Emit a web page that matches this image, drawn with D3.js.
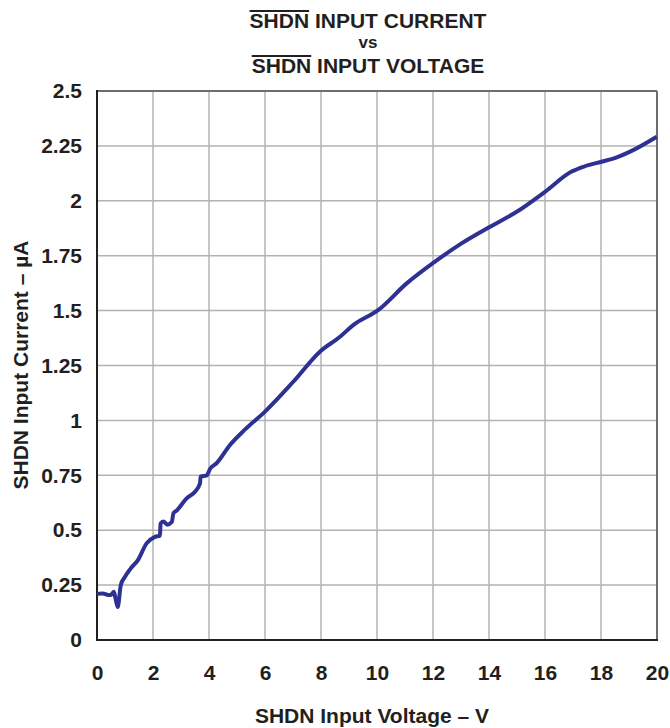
<!DOCTYPE html>
<html><head><meta charset="utf-8">
<script src="https://cdn.jsdelivr.net/npm/d3@7/dist/d3.min.js"></script>
<style>body{margin:0;background:#fff}svg{display:block}text{font-family:"Liberation Sans",Arial,sans-serif;font-weight:bold;fill:#231f20}</style>
</head><body><svg id="c" width="670" height="728"></svg>
<script>
const voltage = [0,0.2,0.4,0.5,0.6,0.66,0.74,0.85,1.0,1.2,1.46,1.77,2.07,2.25,2.27,2.37,2.51,2.67,2.73,2.85,3.2,3.5,3.68,3.7,3.92,4.04,4.27,4.75,5.3,6.0,7.01,7.96,8.68,9.15,10.05,11.06,12.07,13.02,14.04,14.99,16.0,16.95,17.37,18.02,18.56,19.04,19.99];
const current = [0.21,0.212,0.205,0.205,0.22,0.19,0.15,0.25,0.288,0.325,0.364,0.44,0.47,0.475,0.53,0.54,0.525,0.537,0.577,0.59,0.645,0.675,0.714,0.744,0.75,0.78,0.805,0.888,0.96,1.04,1.176,1.313,1.381,1.434,1.503,1.624,1.723,1.806,1.882,1.95,2.041,2.133,2.155,2.178,2.198,2.224,2.292];
const xTicks = [0,2,4,6,8,10,12,14,16,18,20];
const yTicks = [0,0.25,0.5,0.75,1,1.25,1.5,1.75,2,2.25,2.5];
const yTickLabels = ["0","0.25","0.5","0.75","1","1.25","1.5","1.75","2","2.25","2.5"];

const svg = d3.select("#c");
const L=97,R=657,T=91,B=640;
const x = d3.scaleLinear().domain([0,20]).range([L,R]);
const y = d3.scaleLinear().domain([0,2.5]).range([B,T]);

// grid
svg.append("g").selectAll("line").data(xTicks.slice(1,-1)).join("line")
  .attr("x1",d=>x(d)).attr("x2",d=>x(d)).attr("y1",T).attr("y2",B)
  .attr("stroke","#b3b3b3").attr("stroke-width",1.5);
svg.append("g").selectAll("line").data(yTicks.slice(1,-1)).join("line")
  .attr("y1",d=>y(d)).attr("y2",d=>y(d)).attr("x1",L).attr("x2",R)
  .attr("stroke","#b3b3b3").attr("stroke-width",1.5);

// frame
svg.append("line").attr("x1",L).attr("x2",R).attr("y1",T).attr("y2",T).attr("stroke","#6d6d6d").attr("stroke-width",2);
svg.append("line").attr("x1",R).attr("x2",R).attr("y1",T).attr("y2",B).attr("stroke","#6d6d6d").attr("stroke-width",2);
svg.append("line").attr("x1",L).attr("x2",L).attr("y1",T-1).attr("y2",B+1).attr("stroke","#231f20").attr("stroke-width",2);
svg.append("line").attr("x1",L-1).attr("x2",R+1).attr("y1",B).attr("y2",B).attr("stroke","#231f20").attr("stroke-width",2);

const FS = 21;
const xa = svg.append("g").attr("transform",`translate(0,${B})`)
  .call(d3.axisBottom(x).tickValues(xTicks).tickSize(0).tickPadding(25).tickFormat(d3.format("d")));
xa.select(".domain").remove();
xa.selectAll("text").attr("font-size",FS).style("font-family","'Liberation Sans',Arial,sans-serif").style("font-weight","bold").attr("fill","#231f20");
const ya = svg.append("g").attr("transform",`translate(${L},0)`)
  .call(d3.axisLeft(y).tickValues(yTicks).tickSize(0).tickPadding(15).tickFormat((d,i)=>yTickLabels[i]));
ya.select(".domain").remove();
ya.selectAll("text").attr("font-size",FS).style("font-family","'Liberation Sans',Arial,sans-serif").style("font-weight","bold").attr("fill","#231f20");

// curve
const data = voltage.map((v,i)=>[v,current[i]]);
svg.append("path").datum(data)
  .attr("d", d3.line().x(d=>x(d[0])).y(d=>y(d[1])).curve(d3.curveMonotoneX))
  .attr("fill","none").attr("stroke","#2e3192").attr("stroke-width",4).attr("stroke-linejoin","round");

// titles
const cx = 368;
function titleLine(txt, yy, fs){
  return svg.append("text").attr("x",cx).attr("y",yy).attr("text-anchor","middle").attr("font-size",fs).text(txt);
}
const t1 = titleLine("SHDN INPUT CURRENT",28,21);
titleLine("vs",48,17);
const t3 = titleLine("SHDN INPUT VOLTAGE",73,21);
[t1,t3].forEach(t=>{
  const bb = t.node().getBBox();
  const w = t.node().getSubStringLength(0,4);
  svg.append("line").attr("x1",bb.x).attr("x2",bb.x+w).attr("y1",bb.y+2).attr("y2",bb.y+2)
    .attr("stroke","#231f20").attr("stroke-width",1.8);
});

svg.append("text").attr("x",372).attr("y",723).attr("text-anchor","middle").attr("font-size",21).text("SHDN Input Voltage – V");
svg.append("text").attr("transform","translate(28,365) rotate(-90)").attr("text-anchor","middle").attr("font-size",21).text("SHDN Input Current – µA");
</script></body></html>
